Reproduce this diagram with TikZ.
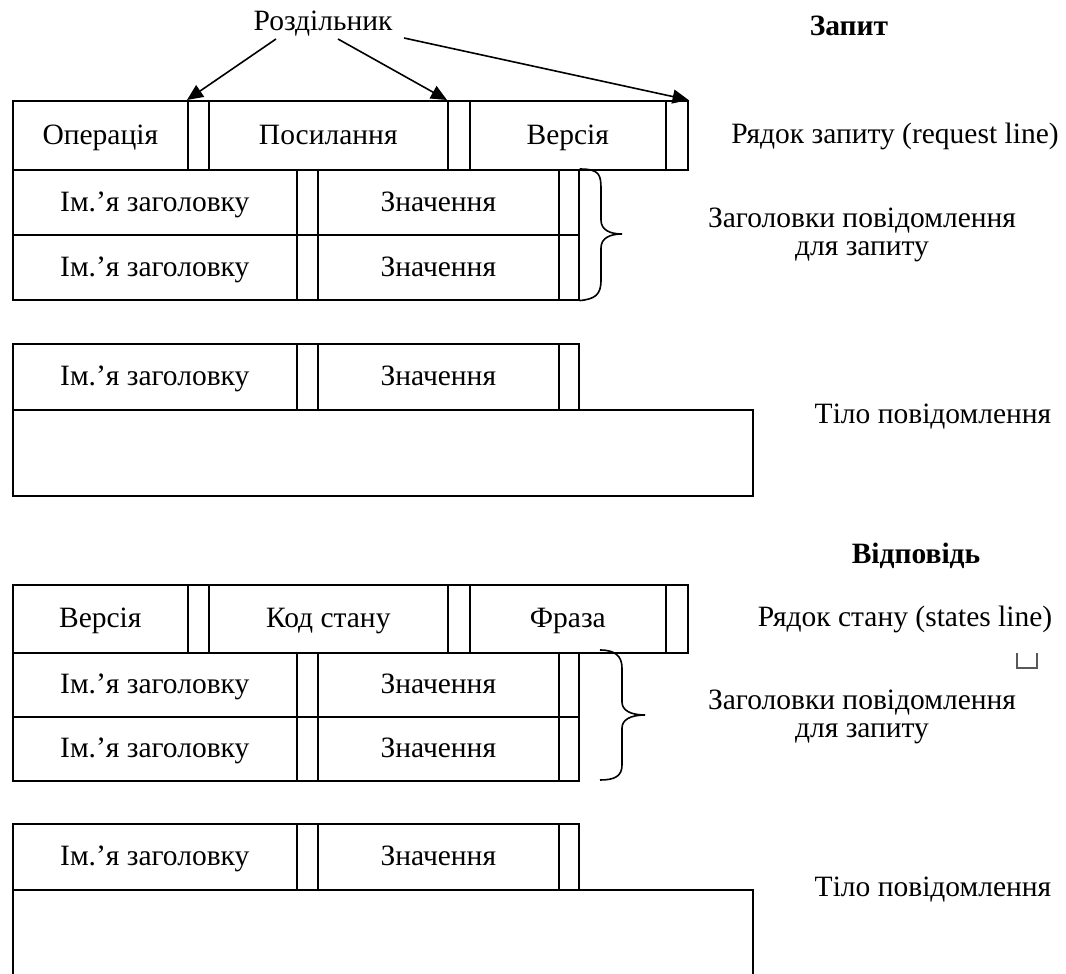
\documentclass[tikz,border=0pt]{standalone}
\usepackage{fontspec}
\setmainfont{Liberation Serif}
\usetikzlibrary{arrows.meta}
\begin{document}
\begin{tikzpicture}[x=1pt,y=-1pt,
  every node/.style={font=\fontsize{29.5}{34}\selectfont, text height=18pt, text depth=0pt},
  cellbox/.style={draw, line width=1.6pt, inner sep=0pt, anchor=north west},
  label/.style={inner sep=0pt},
  title/.style={inner sep=0pt, font=\fontsize{29.5}{34}\selectfont\bfseries},
  pointer/.style={line width=1.6pt, -{Triangle[length=16pt,width=14pt]}},
  brace/.style={line width=1.6pt}]
\useasboundingbox (0,0) rectangle (1066,974);
\clip (0,0) rectangle (1066,974);

% ---------- Запит ----------
\node[title] (req) at (849,27) {Запит};
\node[label] (sepname) at (323,22) {Роздільник};
\coordinate (a1) at (276,39);
\coordinate (a2) at (338,39);
\coordinate (a3) at (404,38);

% request line
\node[cellbox, minimum width=175pt, minimum height=69pt] (op) at (12,100) {Операція};
\node[cellbox, minimum width=21pt, minimum height=69pt] (s1) at (187,100) {};
\node[cellbox, minimum width=239pt, minimum height=69pt] (uri) at (208,100) {Посилання};
\node[cellbox, minimum width=22pt, minimum height=69pt] (s2) at (447,100) {};
\node[cellbox, minimum width=196pt, minimum height=69pt] (ver) at (469,100) {Версія};
\node[cellbox, minimum width=22pt, minimum height=69pt] (s3) at (665,100) {};
\node[label] (reqline) at (895,134) {Рядок запиту (request line)};

\draw[pointer] (a1) -- (s1.north west);
\draw[pointer] (a2) -- (s2.north west);
\draw[pointer] (a3) -- (s3.north east);

% request headers
\foreach \r/\y in {1/169,2/234}{
  \node[cellbox, minimum width=284pt, minimum height=65pt] (qn\r) at (12,\y) {Ім.’я заголовку};
  \node[cellbox, minimum width=21pt, minimum height=65pt] (qa\r) at (296,\y) {};
  \node[cellbox, minimum width=241pt, minimum height=65pt] (qv\r) at (317,\y) {Значення};
  \node[cellbox, minimum width=20pt, minimum height=65pt] (qb\r) at (558,\y) {};
}
\draw[brace] (qb1.north east) .. controls (600,169) and (601,175) .. (601,190)
  -- (601,220) .. controls (601,230) and (610,234) .. (622,234)
  .. controls (610,234) and (601,238) .. (601,248)
  -- (601,280) .. controls (601,295) and (595,299) .. (qb2.south east);
\node[label] (qh1) at (862,218) {Заголовки повідомлення};
\node[label] (qh2) at (862,246) {для запиту};

% request body
\node[cellbox, minimum width=284pt, minimum height=66pt] (bn1) at (12,343) {Ім.’я заголовку};
\node[cellbox, minimum width=21pt, minimum height=66pt] (ba1) at (296,343) {};
\node[cellbox, minimum width=241pt, minimum height=66pt] (bv1) at (317,343) {Значення};
\node[cellbox, minimum width=20pt, minimum height=66pt] (bb1) at (558,343) {};
\node[cellbox, minimum width=740pt, minimum height=86pt] (body1) at (12,409) {};
\node[label] (bl1) at (933,414) {Тіло повідомлення};

% ---------- Відповідь ----------
\node[title] (resp) at (916,554) {Відповідь};

\node[cellbox, minimum width=175pt, minimum height=68pt] (rv) at (12,584) {Версія};
\node[cellbox, minimum width=21pt, minimum height=68pt] (t1) at (187,584) {};
\node[cellbox, minimum width=239pt, minimum height=68pt] (code) at (208,584) {Код стану};
\node[cellbox, minimum width=22pt, minimum height=68pt] (t2) at (447,584) {};
\node[cellbox, minimum width=196pt, minimum height=68pt] (phr) at (469,584) {Фраза};
\node[cellbox, minimum width=22pt, minimum height=68pt] (t3) at (665,584) {};
\node[label] (stline) at (905,617) {Рядок стану (states line)};

% small stray mark
\draw[line width=1.2pt, gray!70!black] (1017,653) -- (1017,668) -- (1037,668) -- (1037,653);

\foreach \r/\y in {1/652,2/716}{
  \node[cellbox, minimum width=284pt, minimum height=64pt] (pn\r) at (12,\y) {Ім.’я заголовку};
  \node[cellbox, minimum width=21pt, minimum height=64pt] (pa\r) at (296,\y) {};
  \node[cellbox, minimum width=241pt, minimum height=64pt] (pv\r) at (317,\y) {Значення};
  \node[cellbox, minimum width=20pt, minimum height=64pt] (pb\r) at (558,\y) {};
}
\draw[brace] (600,650) .. controls (615,650) and (622,656) .. (622,668)
  -- (622,702) .. controls (622,710) and (630,715) .. (645,715)
  .. controls (630,715) and (622,720) .. (622,728)
  -- (622,765) .. controls (622,776) and (615,780) .. (600,780);
\node[label] (ph1) at (862,700) {Заголовки повідомлення};
\node[label] (ph2) at (862,728) {для запиту};

% response body
\node[cellbox, minimum width=284pt, minimum height=66pt] (cn1) at (12,823) {Ім.’я заголовку};
\node[cellbox, minimum width=21pt, minimum height=66pt] (ca1) at (296,823) {};
\node[cellbox, minimum width=241pt, minimum height=66pt] (cv1) at (317,823) {Значення};
\node[cellbox, minimum width=20pt, minimum height=66pt] (cb1) at (558,823) {};
\node[cellbox, minimum width=740pt, minimum height=120pt] (body2) at (12,889) {};
\node[label] (bl2) at (933,887) {Тіло повідомлення};
\end{tikzpicture}
\end{document}
